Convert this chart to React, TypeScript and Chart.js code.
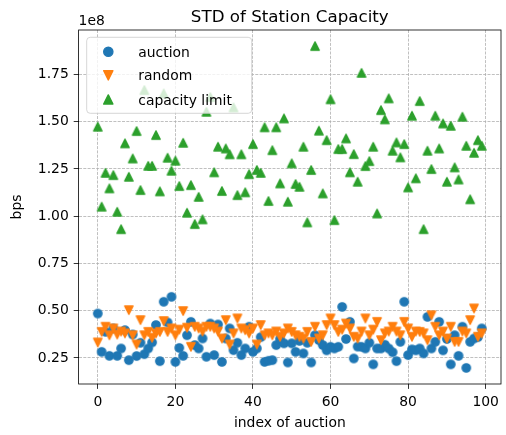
import React, { useEffect, useRef } from "react";
import { Chart, registerables } from "chart.js";

Chart.register(...registerables);

// values are in units of 1e8 bps
const auctionIndex: number[] = Array.from({ length: 100 }, (_, i) => i);

const auction: number[] = [
  0.485, 0.282, 0.388, 0.261, 0.406, 0.261, 0.3, 0.397, 0.238, 0.374,
  0.26, 0.33, 0.27, 0.3, 0.332, 0.424, 0.233, 0.547, 0.438, 0.573,
  0.229, 0.303, 0.261, 0.37, 0.441, 0.318, 0.3, 0.353, 0.256, 0.432,
  0.265, 0.427, 0.229, 0.353, 0.406, 0.291, 0.33, 0.265, 0.3, 0.415,
  0.282, 0.3, 0.36, 0.229, 0.235, 0.238, 0.318, 0.35, 0.327, 0.226,
  0.327, 0.282, 0.34, 0.274, 0.33, 0.226, 0.37, 0.344, 0.318, 0.29,
  0.309, 0.3, 0.309, 0.52, 0.35, 0.441, 0.247, 0.31, 0.309, 0.3,
  0.33, 0.216, 0.3, 0.3, 0.32, 0.3, 0.28, 0.233, 0.335, 0.547,
  0.265, 0.295, 0.29, 0.3, 0.274, 0.467, 0.3, 0.335, 0.441, 0.29,
  0.35, 0.216, 0.37, 0.261, 0.415, 0.197, 0.335, 0.353, 0.36, 0.406,
];

const random: number[] = [
  0.332, 0.388, 0.415, 0.37, 0.406, 0.374, 0.39, 0.38, 0.503, 0.37,
  0.321, 0.45, 0.37, 0.388, 0.357, 0.38, 0.388, 0.445, 0.388, 0.406,
  0.37, 0.4, 0.498, 0.41, 0.309, 0.415, 0.406, 0.39, 0.415, 0.415,
  0.406, 0.39, 0.353, 0.45, 0.321, 0.38, 0.459, 0.406, 0.397, 0.38,
  0.406, 0.321, 0.424, 0.37, 0.38, 0.37, 0.39, 0.362, 0.38, 0.406,
  0.388, 0.37, 0.362, 0.353, 0.388, 0.335, 0.415, 0.353, 0.37, 0.424,
  0.459, 0.424, 0.388, 0.4, 0.432, 0.406, 0.362, 0.353, 0.39, 0.459,
  0.37, 0.4, 0.441, 0.344, 0.38, 0.39, 0.415, 0.39, 0.37, 0.441,
  0.406, 0.362, 0.39, 0.388, 0.38, 0.344, 0.476, 0.415, 0.37, 0.39,
  0.353, 0.415, 0.335, 0.335, 0.39, 0.38, 0.45, 0.512, 0.362, 0.38,
];

const capacityLimit: number[] = [
  1.473, 1.05, 1.229, 1.147, 1.217, 1.023, 0.931, 1.385, 1.208, 1.305,
  1.45, 1.138, 1.667, 1.266, 1.266, 1.429, 1.131, 1.649, 1.309, 1.24,
  1.293, 1.159, 1.388, 1.018, 1.164, 0.958, 1.102, 0.983, 1.552, 1.63,
  1.232, 1.367, 1.133, 1.358, 1.327, 1.575, 1.111, 1.327, 1.126, 1.222,
  1.381, 1.244, 1.229, 1.47, 1.08, 1.349, 1.47, 1.173, 1.517, 1.076,
  1.279, 1.17, 1.155, 1.367, 0.967, 1.244, 1.9, 1.452, 1.12, 1.402,
  1.618, 0.979, 1.355, 1.355, 1.411, 1.232, 1.328, 1.182, 1.758, 1.265,
  1.291, 1.367, 1.014, 1.561, 1.512, 1.623, 1.346, 1.39, 1.311, 1.381,
  1.152, 1.531, 1.2, 1.609, 0.931, 1.346, 1.249, 1.531, 1.358, 1.49,
  1.182, 1.478, 1.258, 1.194, 1.526, 1.372, 1.089, 1.335, 1.402, 1.372,
];

const xTicks: number[] = [0, 20, 40, 60, 80, 100];
const yTicks: number[] = [0.25, 0.5, 0.75, 1.0, 1.25, 1.5, 1.75];
const seriesNames: string[] = ["auction", "random", "capacity limit"];

const BLUE = "#1f77b4";
const ORANGE = "#ff7f0e";
const GREEN = "#2ca02c";
const FONT = '"DejaVu Sans", sans-serif';
const MS = 8.33; // marker size in px
const EW = 1.39; // marker edge width in px

function triPath(ctx: CanvasRenderingContext2D, cx: number, cy: number, up: boolean, size: number) {
  const h = size / 2;
  ctx.beginPath();
  if (up) {
    ctx.moveTo(cx, cy - h);
    ctx.lineTo(cx - h, cy + h);
    ctx.lineTo(cx + h, cy + h);
  } else {
    ctx.moveTo(cx, cy + h);
    ctx.lineTo(cx - h, cy - h);
    ctx.lineTo(cx + h, cy - h);
  }
  ctx.closePath();
}

function paint(ctx: CanvasRenderingContext2D, color: string) {
  ctx.fillStyle = color;
  ctx.strokeStyle = color;
  ctx.lineWidth = EW;
  ctx.lineJoin = "round";
  ctx.fill();
  ctx.stroke();
}

function makeTri(color: string, up: boolean): HTMLCanvasElement {
  const c = document.createElement("canvas");
  c.width = 14;
  c.height = 14;
  const ctx = c.getContext("2d")!;
  triPath(ctx, 7, 7, up, MS);
  paint(ctx, color);
  return c;
}

function makeCircle(color: string): HTMLCanvasElement {
  const c = document.createElement("canvas");
  c.width = 14;
  c.height = 14;
  const ctx = c.getContext("2d")!;
  ctx.beginPath();
  ctx.arc(7, 7, MS / 2, 0, Math.PI * 2);
  paint(ctx, color);
  return c;
}

const decorPlugin = {
  id: "decor",
  afterDraw(chart: any) {
    const { ctx, chartArea: a } = chart;
    ctx.save();
    // frame
    ctx.strokeStyle = "#000";
    ctx.lineWidth = 0.8;
    ctx.strokeRect(a.left, a.top, a.right - a.left, a.bottom - a.top);

    // legend box
    const lx = 86.7, ly = 37.3, lw = 165, lh = 76, r = 3.5;
    ctx.beginPath();
    ctx.moveTo(lx + r, ly);
    ctx.lineTo(lx + lw - r, ly);
    ctx.arcTo(lx + lw, ly, lx + lw, ly + r, r);
    ctx.lineTo(lx + lw, ly + lh - r);
    ctx.arcTo(lx + lw, ly + lh, lx + lw - r, ly + lh, r);
    ctx.lineTo(lx + r, ly + lh);
    ctx.arcTo(lx, ly + lh, lx, ly + lh - r, r);
    ctx.lineTo(lx, ly + r);
    ctx.arcTo(lx, ly, lx + r, ly, r);
    ctx.closePath();
    ctx.fillStyle = "rgba(255,255,255,0.8)";
    ctx.fill();
    ctx.strokeStyle = "#cccccc";
    ctx.lineWidth = 0.8;
    ctx.stroke();

    const mx = 108.3;
    const rows = [51.7, 75.3, 99.5];
    const LS = 9.2;
    ctx.beginPath();
    ctx.arc(mx, rows[0], LS / 2, 0, Math.PI * 2);
    paint(ctx, BLUE);
    triPath(ctx, mx, rows[1], false, LS);
    paint(ctx, ORANGE);
    triPath(ctx, mx, rows[2], true, LS);
    paint(ctx, GREEN);

    ctx.fillStyle = "#000";
    ctx.font = `13.9px ${FONT}`;
    ctx.textAlign = "left";
    ctx.textBaseline = "alphabetic";
    seriesNames.forEach((n, i) => ctx.fillText(n, 138.3, rows[i] + 5));

    // title
    ctx.font = `16.7px ${FONT}`;
    ctx.textAlign = "center";
    ctx.fillText("STD of Station Capacity", (a.left + a.right) / 2, a.top - 8.3);

    // offset text
    ctx.font = `13.9px ${FONT}`;
    ctx.textAlign = "left";
    ctx.fillText("1e8", a.left, a.top - 5);

    // axis labels
    ctx.textAlign = "center";
    ctx.textBaseline = "middle";
    ctx.fillText("index of auction", (a.left + a.right) / 2, 423);
    ctx.translate(17, (a.top + a.bottom) / 2);
    ctx.rotate(-Math.PI / 2);
    ctx.fillText("bps", 0, 0);
    ctx.restore();
  },
};

export default function App() {
  const ref = useRef<HTMLCanvasElement | null>(null);

  useEffect(() => {
    document.body.style.margin = "0";
    const canvas = ref.current!;
    const gridCommon = {
      color: "#b0b0b0",
      lineWidth: 0.8,
      tickLength: 4.9,
      tickColor: "#000",
      tickWidth: 0.8,
      tickBorderDash: [],
    };
    const chart = new Chart(canvas, {
      type: "scatter",
      data: {
        datasets: [
          {
            label: seriesNames[0],
            data: auctionIndex.map((x, i) => ({ x, y: auction[i] })),
            backgroundColor: BLUE,
            borderWidth: 0,
            pointStyle: makeCircle(BLUE),
            pointRadius: 5,
            order: 3,
          },
          {
            label: seriesNames[1],
            data: auctionIndex.map((x, i) => ({ x, y: random[i] })),
            backgroundColor: ORANGE,
            borderWidth: 0,
            pointStyle: makeTri(ORANGE, false),
            pointRadius: 5,
            order: 2,
          },
          {
            label: seriesNames[2],
            data: auctionIndex.map((x, i) => ({ x, y: capacityLimit[i] })),
            backgroundColor: GREEN,
            borderWidth: 0,
            pointStyle: makeTri(GREEN, true),
            pointRadius: 5,
            order: 1,
          },
        ],
      },
      options: {
        animation: false,
        responsive: false,
        devicePixelRatio: 1,
        layout: { padding: { top: 30, right: 0.5, bottom: 0, left: 0 } },
        plugins: { legend: { display: false }, tooltip: { enabled: false }, title: { display: false } },
        scales: {
          x: {
            type: "linear",
            min: -4.95,
            max: 103.95,
            afterBuildTicks: (s: any) => {
              s.ticks = xTicks.map((v) => ({ value: v }));
            },
            afterFit: (s: any) => {
              s.height = 51;
            },
            ticks: {
              callback: (v: any) => String(v),
              color: "#000",
              font: { family: FONT, size: 13.9 },
              padding: 4.9,
              maxRotation: 0,
              autoSkip: false,
            },
            grid: gridCommon,
            border: { display: false, dash: [3, 1.3] },
          },
          y: {
            type: "linear",
            min: 0.112,
            max: 1.985,
            afterBuildTicks: (s: any) => {
              s.ticks = yTicks.map((v) => ({ value: v }));
            },
            afterFit: (s: any) => {
              s.width = 78.6;
            },
            ticks: {
              callback: (v: any) => Number(v).toFixed(2),
              color: "#000",
              font: { family: FONT, size: 13.9 },
              padding: 4.9,
              autoSkip: false,
            },
            grid: gridCommon,
            border: { display: false, dash: [3, 1.3] },
          },
        },
      },
      plugins: [decorPlugin],
    } as any);
    return () => chart.destroy();
  }, []);

  return (
    <div style={{ width: 506, height: 435, background: "#fff" }}>
      <canvas ref={ref} width={506} height={435} style={{ display: "block" }} />
    </div>
  );
}
